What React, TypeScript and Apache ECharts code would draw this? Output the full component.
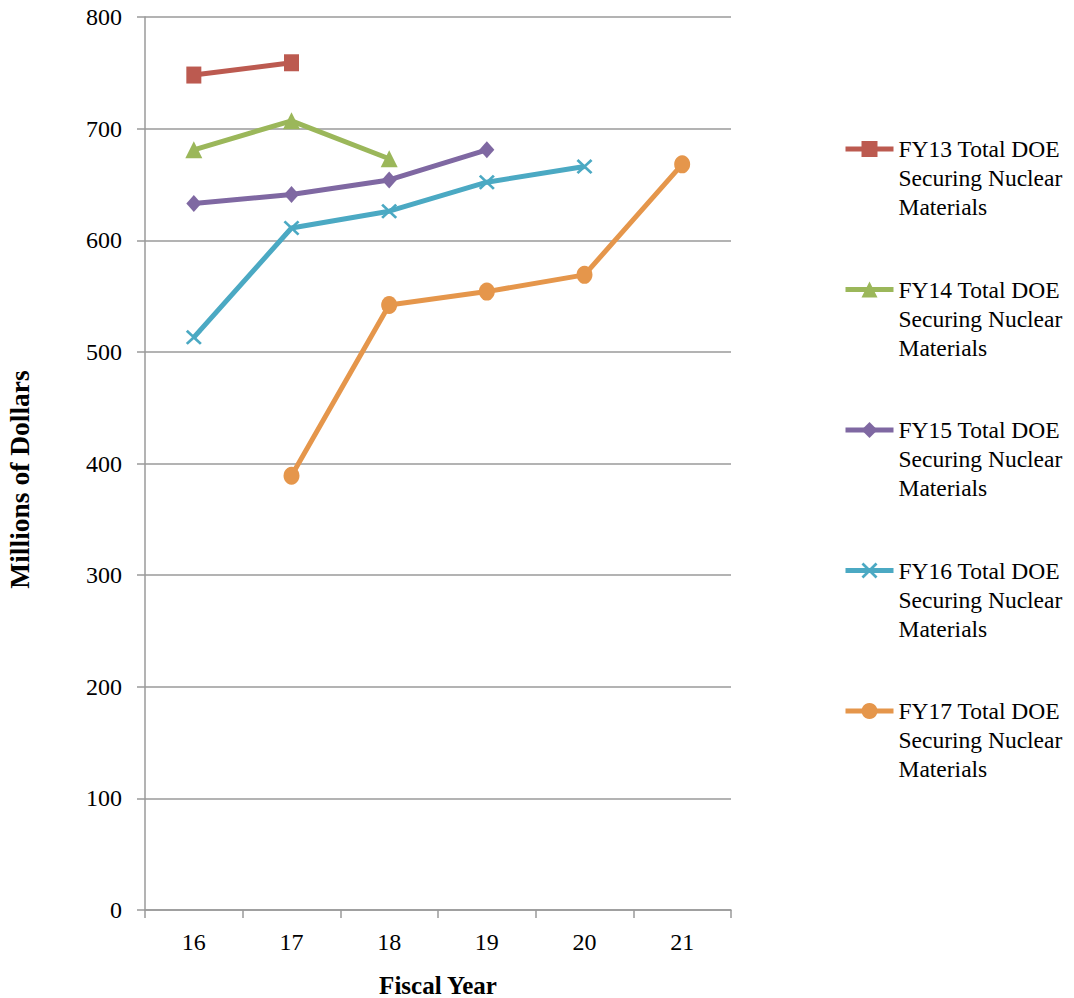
import React, { useEffect, useRef } from "react";
import * as echarts from "echarts";

const categories = ["16", "17", "18", "19", "20", "21"];
const seriesNames = [
  "FY13 Total DOE\nSecuring Nuclear\nMaterials",
  "FY14 Total DOE\nSecuring Nuclear\nMaterials",
  "FY15 Total DOE\nSecuring Nuclear\nMaterials",
  "FY16 Total DOE\nSecuring Nuclear\nMaterials",
  "FY17 Total DOE\nSecuring Nuclear\nMaterials",
];
const fy13 = [748, 759, null, null, null, null];
const fy14 = [681, 707, 673, null, null, null];
const fy15 = [633, 641, 654, 681, null, null];
const fy16 = [513, 611, 626, 652, 666, null];
const fy17 = [null, 389, 542, 554, 569, 668];
const colors = ["#BC5A50", "#9BB75A", "#7F68A2", "#4BA9C3", "#E5964B"];
const xPath = "path://M0,1.2L1.2,0L5,3.8L8.8,0L10,1.2L6.2,5L10,8.8L8.8,10L5,6.2L1.2,10L0,8.8L3.8,5Z";
const symbols = ["rect", "triangle", "diamond", xPath, "circle"];
const symbolSizes = [[15, 17], [17, 17], [15, 17], [16, 15], [16, 18]];

const FONT = "'Liberation Serif', 'DejaVu Serif', serif";

export default function App() {
  const ref = useRef<HTMLDivElement>(null);
  useEffect(() => {
    const chart = echarts.init(ref.current!, null, { renderer: "svg" });
    const data = [fy13, fy14, fy15, fy16, fy17];
    chart.setOption({
      animation: false,
      textStyle: { fontFamily: FONT },
      grid: {
        left: 145,
        right: 343,
        top: 17,
        bottom: 88,
        containLabel: false,
        outerBoundsMode: "none",
      },
      legend: {
        orient: "vertical",
        left: 843,
        top: 76.5,
        padding: 0,
        itemWidth: 48,
        itemHeight: 20,
        itemGap: -4.5,
        data: seriesNames,
        formatter: (name: string) => "\n\n" + name,
        lineStyle: { width: 5 },
        textStyle: {
          fontFamily: FONT,
          fontSize: 23.5,
          lineHeight: 29,
          color: "#000",
        },
      },
      xAxis: {
        type: "category",
        data: categories,
        boundaryGap: true,
        name: "Fiscal Year",
        nameLocation: "middle",
        nameGap: 63,
        nameTextStyle: { fontFamily: FONT, fontSize: 25, fontWeight: "bold", color: "#000" },
        axisLine: { show: true, lineStyle: { color: "#9a9a9a", width: 1.5 } },
        axisTick: { show: true, length: 8, alignWithLabel: false, lineStyle: { color: "#9a9a9a", width: 1.5 } },
        axisLabel: { fontFamily: FONT, fontSize: 24, color: "#000", margin: 20 },
        splitLine: { show: false },
      },
      yAxis: {
        type: "value",
        min: 0,
        max: 800,
        interval: 100,
        name: "Millions of Dollars",
        nameLocation: "middle",
        nameGap: 112,
        nameTextStyle: {
          fontFamily: FONT,
          fontSize: 27.5,
          fontWeight: "bold",
          color: "#000",
          padding: [0, 32, 0, 0],
        },
        axisLine: { show: true, lineStyle: { color: "#9a9a9a", width: 1.5 } },
        axisTick: { show: true, length: 8, lineStyle: { color: "#9a9a9a", width: 1.5 } },
        axisLabel: { fontFamily: FONT, fontSize: 24, color: "#000", margin: 23 },
        splitLine: { show: true, lineStyle: { color: "#9a9a9a", width: 1.5 } },
      },
      series: data.map((d, i) => ({
        name: seriesNames[i],
        type: "line",
        data: d,
        connectNulls: false,
        symbol: symbols[i],
        symbolSize: symbolSizes[i],
        showAllSymbol: true,
        lineStyle: { color: colors[i], width: 5 },
        itemStyle: { color: colors[i] },
      })),
    });
    return () => chart.dispose();
  }, []);
  return (
    <div
      ref={ref}
      style={{ position: "fixed", left: 0, top: 0, width: 1074, height: 998, background: "#fff" }}
    />
  );
}
